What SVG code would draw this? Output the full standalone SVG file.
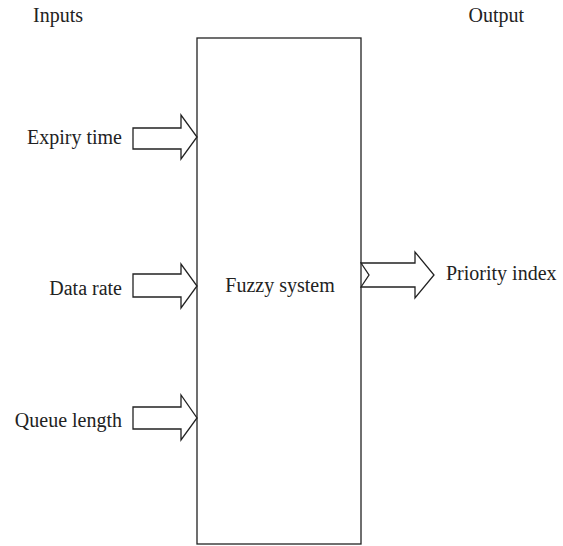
<svg xmlns="http://www.w3.org/2000/svg" width="563" height="546" viewBox="0 0 563 546">
<style>
text{font-family:"Liberation Serif","DejaVu Serif",serif;font-size:20px;fill:#222}
.sh{fill:#fff;stroke:#222;stroke-width:1.3;stroke-linejoin:miter}
</style>
<rect width="563" height="546" fill="#fff"/>
<g id="labels">
<text x="33" y="22">Inputs</text>
<text x="524" y="22" text-anchor="end">Output</text>
</g>
<g id="fuzzy-system">
<rect class="sh" x="197" y="38" width="164" height="506"/>
<text x="280" y="292" text-anchor="middle">Fuzzy system</text>
</g>
<g id="connectors">
<polygon class="sh" points="133,128 181,128 181,115 197,137 181,159 181,149 133,149"/>
<polygon class="sh" points="133,274 181,274 181,264 197,286 181,308 181,297 133,297"/>
<polygon class="sh" points="133,407 181,407 181,395 197,418 181,440 181,429 133,429"/>
<polygon class="sh" points="361,263 415,263 415,252 434,275 415,298 415,287 361,287 369,275"/>
</g>
<g id="expiry-time"><text x="122" y="144" text-anchor="end">Expiry time</text></g>
<g id="data-rate"><text x="122" y="295" text-anchor="end">Data rate</text></g>
<g id="queue-length"><text x="122" y="427" text-anchor="end">Queue length</text></g>
<g id="priority-index"><text x="446" y="280">Priority index</text></g>
</svg>
